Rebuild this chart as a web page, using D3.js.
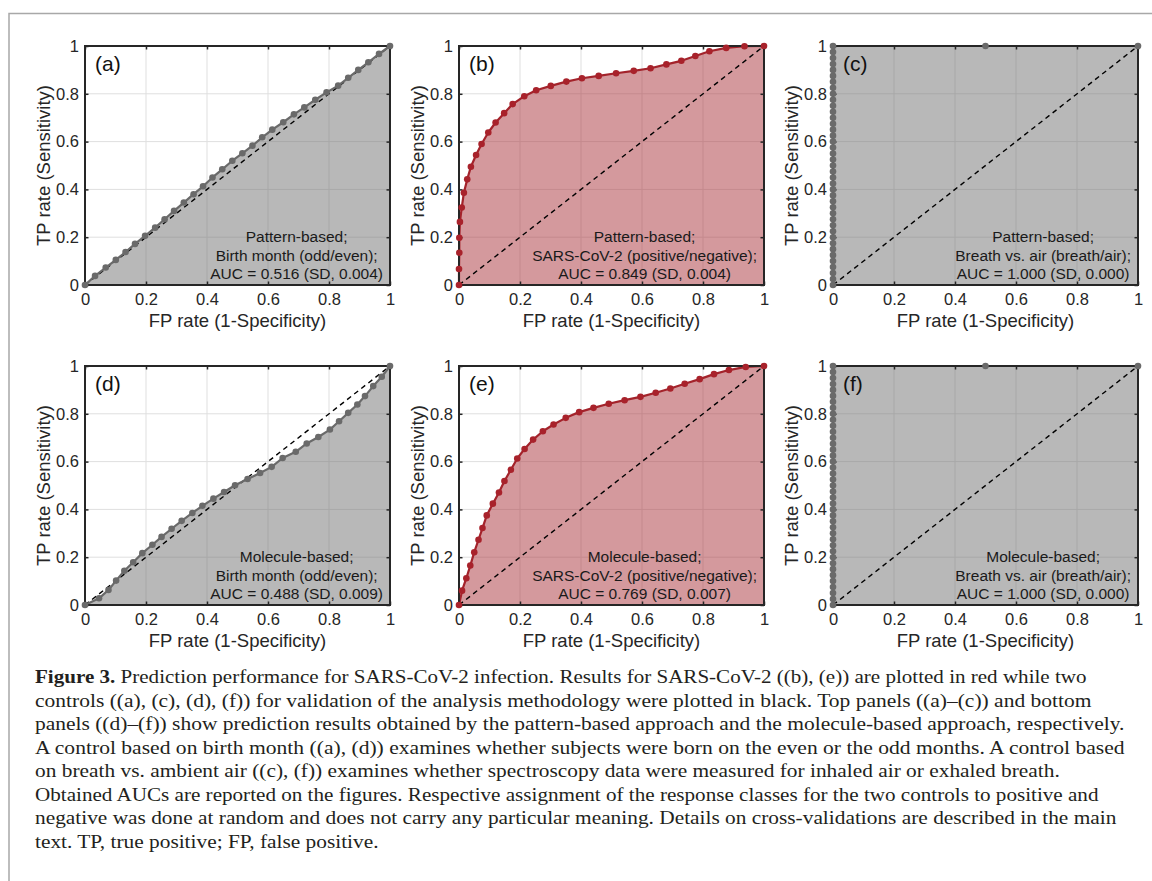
<!DOCTYPE html>
<html><head><meta charset="utf-8">
<script src="https://cdn.jsdelivr.net/npm/d3@7"></script>
<style>body{margin:0;background:#fff} svg{display:block}</style>
</head><body><svg id="c" width="1152" height="881"></svg>
<script>
// ---------- data ----------
const tickValues = [0, 0.2, 0.4, 0.6, 0.8, 1];
const tickLabels = ["0", "0.2", "0.4", "0.6", "0.8", "1"];
const xTitle = "FP rate (1-Specificity)";
const yTitle = "TP rate (Sensitivity)";
const panelLabels = ["(a)", "(b)", "(c)", "(d)", "(e)", "(f)"];

const fprA = [0,0.033,0.068,0.101,0.133,0.164,0.197,0.230,0.261,0.292,0.324,0.356,0.387,0.418,0.450,0.483,0.516,0.549,0.581,0.614,0.650,0.685,0.719,0.755,0.792,0.830,0.863,0.896,0.929,0.964,1];
const tprA = [0,0.038,0.073,0.105,0.138,0.172,0.206,0.240,0.275,0.310,0.345,0.380,0.413,0.450,0.484,0.520,0.551,0.583,0.618,0.650,0.681,0.714,0.743,0.775,0.806,0.834,0.867,0.900,0.932,0.967,1];

const fprB = [0,0,0.001,0.001,0.003,0.009,0.016,0.027,0.039,0.056,0.074,0.096,0.120,0.148,0.176,0.214,0.253,0.301,0.352,0.403,0.458,0.515,0.573,0.628,0.680,0.729,0.775,0.821,0.876,0.936,1];
const tprB = [0,0.067,0.135,0.198,0.264,0.324,0.386,0.442,0.495,0.544,0.590,0.638,0.680,0.719,0.757,0.790,0.815,0.833,0.851,0.865,0.875,0.886,0.896,0.907,0.923,0.938,0.958,0.978,0.992,0.999,1];

const fprC = [0,0,0,0,0,0,0,0,0,0,0,0,0,0,0,0,0,0,0,0,0,0,0,0,0,0,0,0,0,0,0,0,0,0,0,0,0,0,0,0,0,0.5,1];
const tprC = [0,0.025,0.05,0.075,0.1,0.125,0.15,0.175,0.2,0.225,0.25,0.275,0.3,0.325,0.35,0.375,0.4,0.425,0.45,0.475,0.5,0.525,0.55,0.575,0.6,0.625,0.65,0.675,0.7,0.725,0.75,0.775,0.8,0.825,0.85,0.875,0.9,0.925,0.95,0.975,1,1,1];

const fprD = [0,0.046,0.077,0.102,0.129,0.158,0.188,0.221,0.251,0.284,0.317,0.352,0.385,0.421,0.456,0.492,0.533,0.574,0.612,0.648,0.691,0.727,0.765,0.803,0.833,0.863,0.893,0.918,0.945,0.973,1];
const tprD = [0,0.028,0.063,0.102,0.143,0.179,0.217,0.252,0.285,0.319,0.352,0.385,0.415,0.445,0.473,0.501,0.527,0.552,0.578,0.615,0.641,0.676,0.703,0.734,0.769,0.804,0.839,0.874,0.916,0.955,1];

const fprE = [0,0.010,0.024,0.037,0.050,0.064,0.077,0.091,0.111,0.131,0.149,0.170,0.191,0.215,0.243,0.275,0.310,0.350,0.394,0.441,0.491,0.543,0.595,0.645,0.693,0.740,0.789,0.836,0.885,0.940,1];
const tprE = [0,0.060,0.112,0.165,0.221,0.273,0.322,0.375,0.424,0.471,0.519,0.566,0.613,0.653,0.692,0.727,0.755,0.783,0.807,0.825,0.842,0.857,0.871,0.888,0.906,0.926,0.945,0.966,0.983,0.996,1];

const fprF = fprC.slice();
const tprF = tprC.slice();

const annotations = [
  ["Pattern-based;", "Birth month (odd/even);", "AUC = 0.516 (SD, 0.004)"],
  ["Pattern-based;", "SARS-CoV-2 (positive/negative);", "AUC = 0.849 (SD, 0.004)"],
  ["Pattern-based;", "Breath vs. air (breath/air);", "AUC = 1.000 (SD, 0.000)"],
  ["Molecule-based;", "Birth month (odd/even);", "AUC = 0.488 (SD, 0.009)"],
  ["Molecule-based;", "SARS-CoV-2 (positive/negative);", "AUC = 0.769 (SD, 0.007)"],
  ["Molecule-based;", "Breath vs. air (breath/air);", "AUC = 1.000 (SD, 0.000)"]
];
const seriesFpr = [fprA, fprB, fprC, fprD, fprE, fprF];
const seriesTpr = [tprA, tprB, tprC, tprD, tprE, tprF];
const seriesKind = ["control", "sars", "control", "control", "sars", "control"];

const captionBold = "Figure 3.";
const captionLines = [
  " Prediction performance for SARS-CoV-2 infection. Results for SARS-CoV-2 ((b), (e)) are plotted in red while two",
  "controls ((a), (c), (d), (f)) for validation of the analysis methodology were plotted in black. Top panels ((a)–(c)) and bottom",
  "panels ((d)–(f)) show prediction results obtained by the pattern-based approach and the molecule-based approach, respectively.",
  "A control based on birth month ((a), (d)) examines whether subjects were born on the even or the odd months. A control based",
  "on breath vs. ambient air ((c), (f)) examines whether spectroscopy data were measured for inhaled air or exhaled breath.",
  "Obtained AUCs are reported on the figures. Respective assignment of the response classes for the two controls to positive and",
  "negative was done at random and does not carry any particular meaning. Details on cross-validations are described in the main",
  "text. TP, true positive; FP, false positive."
];
const captionLineEnds = [1087, 1092, 1125, 1125, 1060, 1099, 1117, null];

// ---------- style / layout ----------
const style = {
  control: { line: "#6a6a6a", marker: "#6a6a6a", fill: "#727272" },
  sars:    { line: "#a3232b", marker: "#a8222b", fill: "#aa343c" }
};
const colLeft = [85, 459, 833];
const rowTop = [46, 366];
const PW = 305, PH = 239;
const axisColor = "#262626";
const sans = "'Liberation Sans', Arial, sans-serif";
const serif = "'Liberation Serif', 'Times New Roman', serif";

const svg = d3.select("#c");
svg.append("rect").attr("width", 1152).attr("height", 881).attr("fill", "#fff");

// outer frame (top + left visible)
svg.append("path").attr("d", "M9,881 L9,13.5 L1152,13.5")
  .attr("fill", "none").attr("stroke", "#a8a8a8").attr("stroke-width", 1.5);

for (let i = 0; i < 6; i++) {
  const x0 = colLeft[i % 3], y0 = rowTop[Math.floor(i / 3)];
  const x = d3.scaleLinear().domain([0, 1]).range([x0, x0 + PW]);
  const y = d3.scaleLinear().domain([0, 1]).range([y0 + PH, y0]);
  const st = style[seriesKind[i]];
  const pts = seriesFpr[i].map((f, k) => [f, seriesTpr[i][k]]);
  const g = svg.append("g");

  // grid
  g.append("g").selectAll("line.gx").data(tickValues).join("line")
    .attr("x1", d => x(d)).attr("x2", d => x(d)).attr("y1", y(0)).attr("y2", y(1))
    .attr("stroke", "#dfdfdf").attr("stroke-width", 1);
  g.append("g").selectAll("line.gy").data(tickValues).join("line")
    .attr("y1", d => y(d)).attr("y2", d => y(d)).attr("x1", x(0)).attr("x2", x(1))
    .attr("stroke", "#dfdfdf").attr("stroke-width", 1);

  // fill under curve
  g.append("path").datum(pts)
    .attr("d", d3.area().x(d => x(d[0])).y0(y(0)).y1(d => y(d[1])))
    .attr("fill", st.fill).attr("fill-opacity", 0.5);

  // diagonal chance line
  g.append("line").attr("x1", x(0)).attr("y1", y(0)).attr("x2", x(1)).attr("y2", y(1))
    .attr("stroke", "#000").attr("stroke-width", 1.4).attr("stroke-dasharray", "5,4");

  // curve
  g.append("path").datum(pts)
    .attr("d", d3.line().x(d => x(d[0])).y(d => y(d[1])))
    .attr("fill", "none").attr("stroke", st.line).attr("stroke-width", 2.2)
    .attr("stroke-linejoin", "round");

  // axes (inward ticks on all sides)
  const fmt = (d, k) => tickLabels[k];
  const axB = g.append("g").attr("transform", `translate(0,${y(0)})`)
    .call(d3.axisBottom(x).tickValues(tickValues).tickFormat(fmt).tickSize(-3.5).tickPadding(8));
  const axL = g.append("g").attr("transform", `translate(${x(0)},0)`)
    .call(d3.axisLeft(y).tickValues(tickValues).tickFormat(fmt).tickSize(-3.5).tickPadding(6));
  const axT = g.append("g").attr("transform", `translate(0,${y(1)})`)
    .call(d3.axisTop(x).tickValues(tickValues).tickFormat("").tickSize(-3.5));
  const axR = g.append("g").attr("transform", `translate(${x(1)},0)`)
    .call(d3.axisRight(y).tickValues(tickValues).tickFormat("").tickSize(-3.5));
  [axB, axL, axT, axR].forEach(a => {
    a.select(".domain").remove();
    a.selectAll(".tick line").attr("stroke", axisColor).attr("stroke-width", 1.5);
    a.selectAll(".tick text").attr("fill", axisColor).style("font-family", sans).style("font-size", "16.5px");
  });

  // box
  g.append("rect").attr("x", x(0)).attr("y", y(1)).attr("width", PW).attr("height", PH)
    .attr("fill", "none").attr("stroke", axisColor).attr("stroke-width", 2);

  // markers
  g.append("g").selectAll("circle").data(pts).join("circle")
    .attr("cx", d => x(d[0])).attr("cy", d => y(d[1])).attr("r", 3.3)
    .attr("fill", st.marker);

  // axis titles
  g.append("text").attr("x", x0 + PW / 2).attr("y", y0 + PH + 41.5)
    .attr("text-anchor", "middle").attr("fill", axisColor)
    .style("font-family", sans).style("font-size", "18.5px").text(xTitle);
  g.append("text").attr("transform", `translate(${x0 - 35},${y0 + PH / 2}) rotate(-90)`)
    .attr("text-anchor", "middle").attr("fill", axisColor)
    .style("font-family", sans).style("font-size", "18.5px").text(yTitle);

  // panel label
  g.append("text").attr("x", x0 + 10).attr("y", y0 + 25).attr("fill", "#111")
    .style("font-family", sans).style("font-size", "21px").text(panelLabels[i]);

  // annotation block
  const ann = g.append("g");
  const lines = annotations[i].map((t, k) => ann.append("text")
    .attr("y", y0 + PH - 6 - (2 - k) * 18.5)
    .attr("text-anchor", "middle").attr("fill", "#1a1a1a")
    .style("font-family", sans).style("font-size", "15.5px").text(t));
  const maxW = d3.max(lines, t => t.node().getComputedTextLength());
  const cx = x0 + PW - 7 - maxW / 2;
  lines.forEach(t => t.attr("x", cx));
}

// ---------- caption ----------
const capX = 35, capY0 = 683, capDY = 23.5;
const capTexts = captionLines.map((line, k) => {
  const t = svg.append("text").attr("fill", "#231f20")
    .style("font-family", serif).style("font-size", "19px");
  if (k === 0) {
    t.append("tspan").style("font-weight", "bold").text(captionBold);
    t.append("tspan").text(line);
  } else {
    t.text(line);
  }
  return t;
});
const ratios = [];
capTexts.forEach((t, k) => {
  const w = t.node().getComputedTextLength();
  if (captionLineEnds[k] != null) ratios.push((captionLineEnds[k] - capX) / w);
});
const meanRatio = d3.mean(ratios);
capTexts.forEach((t, k) => {
  const w = t.node().getComputedTextLength();
  const s = captionLineEnds[k] != null ? (captionLineEnds[k] - capX) / w : meanRatio;
  t.attr("transform", `translate(${capX},${capY0 + k * capDY}) scale(${s},1)`);
});
</script>
</body></html>
